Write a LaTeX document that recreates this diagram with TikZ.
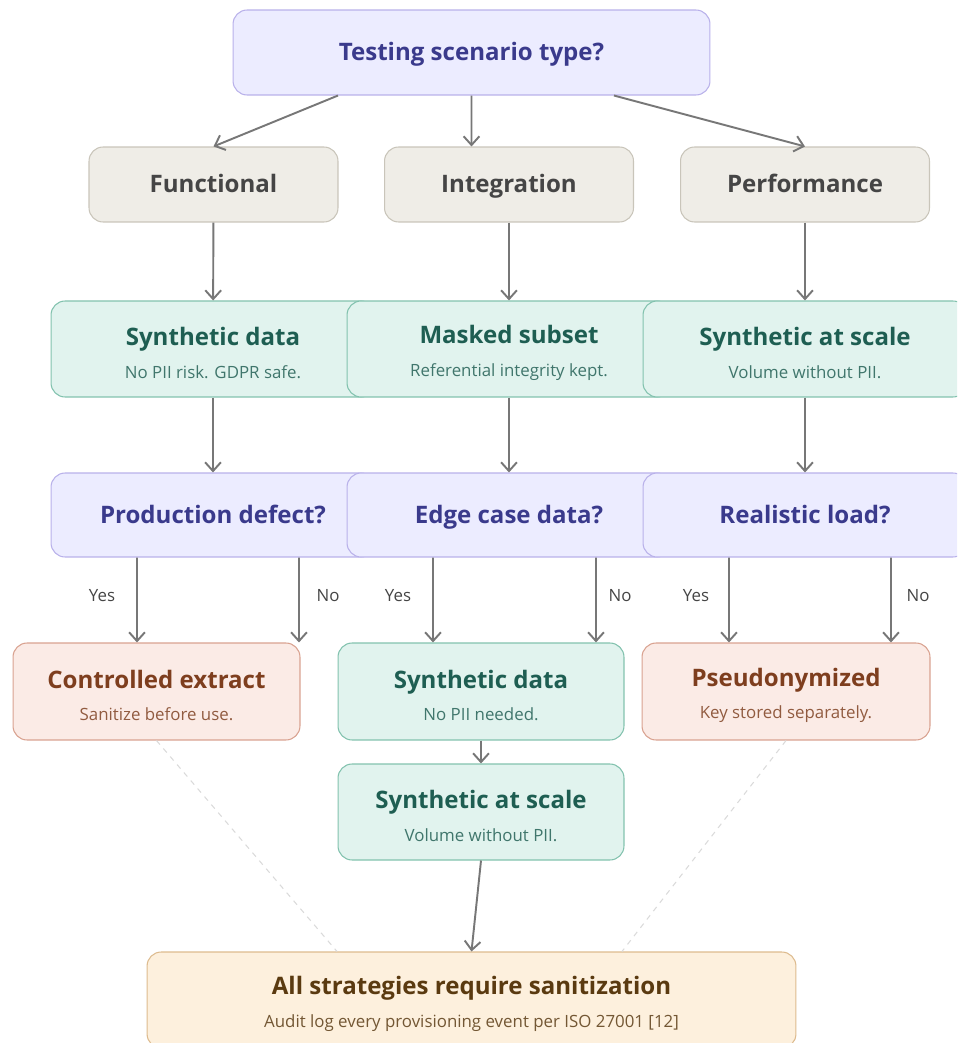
\documentclass[tikz,border=0pt]{standalone}
\usepackage{fontspec}
\setmainfont{Open Sans}
\usetikzlibrary{arrows.meta}
\definecolor{askfill}{HTML}{ECECFF}
\definecolor{askline}{HTML}{B9B1EA}
\definecolor{asktext}{HTML}{3A3A8C}
\definecolor{kindfill}{HTML}{EFEDE7}
\definecolor{kindline}{HTML}{C9C5BA}
\definecolor{kindtext}{HTML}{454545}
\definecolor{safefill}{HTML}{E1F3EE}
\definecolor{safeline}{HTML}{82C2AE}
\definecolor{safetext}{HTML}{1E5E52}
\definecolor{riskfill}{HTML}{FBEBE6}
\definecolor{riskline}{HTML}{D9A290}
\definecolor{risktext}{HTML}{7E3E1E}
\definecolor{notefill}{HTML}{FDF0DD}
\definecolor{noteline}{HTML}{DDBB8E}
\definecolor{notetext}{HTML}{5A3A10}
\definecolor{linkgray}{HTML}{777777}
\definecolor{hintgray}{HTML}{DADADA}
\newcommand{\boxtext}[2]{\rule{0pt}{15pt}\textbf{#1}\\[3.5pt]{\fontsize{9.6}{11}\selectfont\color{.!85!white}#2}}

\begin{document}
\begin{tikzpicture}[x=0.02cm, y=-0.02cm,
    box/.style={rounded corners=8pt, draw, line width=0.6pt, align=center, inner sep=2pt, font=\fontsize{13.7}{15}\selectfont},
    one/.style={text height=2.2ex, text depth=0.45ex},
    ask/.style={box, one, fill=askfill, draw=askline, text=asktext, font=\bfseries\fontsize{13.7}{15}\selectfont},
    kind/.style={box, one, fill=kindfill, draw=kindline, text=kindtext, font=\bfseries\fontsize{13.7}{15}\selectfont, minimum width=4.98cm, minimum height=1.5cm},
    safe/.style={box, fill=safefill, draw=safeline, text=safetext},
    risk/.style={box, fill=riskfill, draw=riskline, text=risktext},
    note/.style={box, fill=notefill, draw=noteline, text=notetext},
    wide/.style={minimum width=6.48cm, minimum height=1.92cm},
    link/.style={draw=linkgray, line width=1.1pt, -{Straight Barb[length=5pt,width=9pt]}},
    hint/.style={draw=hintgray, dashed, line width=0.6pt},
    tag/.style={font=\fontsize{9.6}{11}\selectfont, text=kindtext}]
    \clip (0,0) rectangle (957,1043);

    % question on top and the three kinds of testing
    \node[ask, minimum width=9.54cm, minimum height=1.7cm] (q0) at (471.5,52.5) {Testing scenario type?};
    \node[kind] (fn) at (213.5,184.5) {Functional};
    \node[kind] (it) at (509,184.5) {Integration};
    \node[kind] (pf) at (805,184.5) {Performance};

    % first strategy for each kind
    \node[safe, wide] (sd1) at (213,349) {\boxtext{Synthetic data}{No PII risk. GDPR safe.}};
    \node[safe, wide] (ms) at (509,349) {\boxtext{Masked subset}{Referential integrity kept.}};
    \node[safe, wide] (sc1) at (805,349) {\boxtext{Synthetic at scale}{Volume without PII.}};

    % follow-up questions
    \node[ask, minimum width=6.48cm, minimum height=1.68cm] (q1) at (213,515) {Production defect?};
    \node[ask, minimum width=6.48cm, minimum height=1.68cm] (q2) at (509,515) {Edge case data?};
    \node[ask, minimum width=6.48cm, minimum height=1.68cm] (q3) at (805,515) {Realistic load?};

    % outcomes
    \node[risk, minimum width=5.74cm, minimum height=1.94cm] (ce) at (156.5,691.5) {\boxtext{Controlled extract}{Sanitize before use.}};
    \node[safe, minimum width=5.72cm, minimum height=1.94cm] (sd2) at (481,691.5) {\boxtext{Synthetic data}{No PII needed.}};
    \node[risk, minimum width=5.76cm, minimum height=1.94cm] (pz) at (786,691.5) {\boxtext{Pseudonymized}{Key stored separately.}};
    \node[safe, minimum width=5.72cm, minimum height=1.92cm] (sc2) at (481,812) {\boxtext{Synthetic at scale}{Volume without PII.}};
    \node[note, minimum width=12.98cm, minimum height=1.92cm] (fin) at (471.5,1000) {\boxtext{All strategies require sanitization}{Audit log every provisioning event per ISO 27001 [12]}};

    % yes / no labels
    \node[tag] (y1) at (102,596) {Yes};
    \node[tag] (n1) at (328,596) {No};
    \node[tag] (y2) at (398,596) {Yes};
    \node[tag] (n2) at (620,596) {No};
    \node[tag] (y3) at (696,596) {Yes};
    \node[tag] (n3) at (918,596) {No};

    \draw[hint] (ce.south) -- ([xshift=-2.69cm]fin.north);
    \draw[hint] (pz.south) -- ([xshift=3.01cm]fin.north);

    \draw[link] ([xshift=-2.67cm]q0.south) -- (fn.north);
    \draw[link] (q0.south) -- ([xshift=-0.75cm]it.north);
    \draw[link] ([xshift=2.85cm]q0.south) -- (pf.north);
    \draw[link] (fn) -- (sd1);
    \draw[link] (it) -- (ms);
    \draw[link] (pf) -- (sc1);
    \draw[link] (sd1) -- (q1);
    \draw[link] (ms) -- (q2);
    \draw[link] (sc1) -- (q3);
    \draw[link] ([xshift=-1.52cm]q1.south) -- ([xshift=-0.39cm]ce.north);
    \draw[link] ([xshift=1.72cm]q1.south) -- ([xshift=2.85cm]ce.north);
    \draw[link] ([xshift=-1.52cm]q2.south) -- ([xshift=-0.96cm]sd2.north);
    \draw[link] ([xshift=1.74cm]q2.south) -- ([xshift=2.30cm]sd2.north);
    \draw[link] ([xshift=-1.52cm]q3.south) -- ([xshift=-1.14cm]pz.north);
    \draw[link] ([xshift=1.72cm]q3.south) -- ([xshift=2.10cm]pz.north);
    \draw[link] (sd2) -- (sc2);
    \draw[link] (sc2.south) -- (fin.north);
\end{tikzpicture}
\end{document}
